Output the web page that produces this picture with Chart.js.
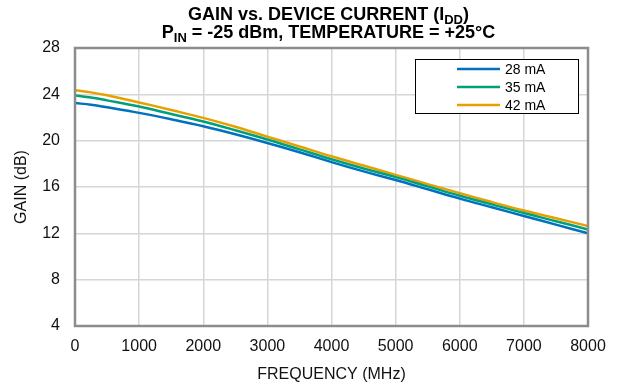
<!DOCTYPE html>
<html>
<head>
<meta charset="utf-8">
<script src="https://cdn.jsdelivr.net/npm/chart.js@4/dist/chart.umd.min.js"></script>
<style>
  html, body { margin: 0; padding: 0; background: #fff; }
  #wrap { width: 619px; height: 388px; }
</style>
</head>
<body>
<div id="wrap"><canvas id="gainChart" width="619" height="388"></canvas></div>
<script>
// Gain vs frequency

const freqMHz = [0, 250, 500, 1000, 1500, 2000, 2500, 3000, 3500, 4000, 4500, 5000, 5500, 6000, 6500, 7000, 7500, 8000];
const gain28 = [23.25, 23.1, 22.88, 22.4, 21.85, 21.25, 20.55, 19.8, 19.0, 18.15, 17.35, 16.6, 15.8, 15.0, 14.25, 13.5, 12.75, 12.0];
const gain35 = [23.9, 23.72, 23.48, 22.95, 22.3, 21.65, 20.9, 20.1, 19.25, 18.4, 17.6, 16.85, 16.05, 15.25, 14.5, 13.75, 13.05, 12.33];
const gain42 = [24.35, 24.17, 23.92, 23.3, 22.65, 21.97, 21.2, 20.35, 19.5, 18.65, 17.85, 17.05, 16.25, 15.47, 14.7, 13.97, 13.3, 12.63];
const seriesLabels = ['28 mA', '35 mA', '42 mA'];
const seriesColors = ['#0072BD', '#00A07A', '#E8A000'];

const FONT = 'Arial, "Liberation Sans", sans-serif';

function toPoints(values) {
    return freqMHz.map((f, i) => ({ x: f, y: values[i] }));
}

// draws a run of [text, isSubscript] pieces centred at cx
function drawRich(ctx, parts, cx, y, size) {
    const subSize = Math.round(size * 0.7);
    let total = 0;
    parts.forEach(p => {
        ctx.font = 'bold ' + (p[1] ? subSize : size) + 'px ' + FONT;
        total += ctx.measureText(p[0]).width;
    });
    let x = cx - total / 2;
    parts.forEach(p => {
        ctx.font = 'bold ' + (p[1] ? subSize : size) + 'px ' + FONT;
        ctx.fillText(p[0], x, p[1] ? y + 4 : y);
        x += ctx.measureText(p[0]).width;
    });
}

const decorations = {
    id: 'decorations',
    afterDatasetsDraw(chart) {
        const ctx = chart.ctx;
        const area = chart.chartArea;
        ctx.save();

        // plot frame
        ctx.strokeStyle = '#8c8c8c';
        ctx.lineWidth = 2.5;
        ctx.strokeRect(area.left, area.top, area.right - area.left, area.bottom - area.top);

        // title
        ctx.fillStyle = '#000';
        ctx.textBaseline = 'alphabetic';
        ctx.textAlign = 'left';
        const cx = (area.left + area.right) / 2 - 3;
        drawRich(ctx, [['GAIN vs. DEVICE CURRENT (I', false], ['DD', true], [')', false]], cx, 20, 18);
        drawRich(ctx, [['P', false], ['IN', true], [' = -25 dBm, TEMPERATURE = +25°C', false]], cx, 38, 18);

        // legend box
        const lx = 415, ly = 59, lw = 163, lh = 54;
        ctx.fillStyle = '#fff';
        ctx.fillRect(lx, ly, lw, lh);
        ctx.strokeStyle = '#000';
        ctx.lineWidth = 1;
        ctx.strokeRect(lx + 0.5, ly + 0.5, lw, lh);
        ctx.font = '14px ' + FONT;
        ctx.textBaseline = 'middle';
        chart.data.datasets.forEach((ds, i) => {
            const y = ly + 10 + i * 18;
            ctx.strokeStyle = ds.borderColor;
            ctx.lineWidth = 2.5;
            ctx.beginPath();
            ctx.moveTo(457, y);
            ctx.lineTo(500, y);
            ctx.stroke();
            ctx.fillStyle = '#000';
            ctx.fillText(ds.label, 505, y + 1);
        });
        ctx.restore();
    }
};

new Chart(document.getElementById('gainChart'), {
    type: 'line',
    data: {
        datasets: [gain28, gain35, gain42].map((vals, i) => ({
            label: seriesLabels[i],
            data: toPoints(vals),
            borderColor: seriesColors[i],
            backgroundColor: seriesColors[i],
            borderWidth: 2.5,
            pointRadius: 0,
            tension: 0.4,
            fill: false
        }))
    },
    options: {
        responsive: false,
        animation: false,
        layout: { padding: { left: 0, right: 31, top: 48, bottom: 0 } },
        plugins: {
            legend: { display: false },
            title: { display: false },
            tooltip: { enabled: false }
        },
        scales: {
            x: {
                type: 'linear',
                min: 0,
                max: 8000,
                ticks: { stepSize: 1000, color: '#111', font: { family: FONT, size: 16 }, padding: 11, maxRotation: 0,
                         callback: v => String(v) },
                grid: { color: '#d6d6d6', lineWidth: 1.5, drawTicks: false },
                border: { display: false },
                title: { display: true, text: 'FREQUENCY (MHz)', color: '#111', font: { family: FONT, size: 16 }, padding: { top: 0 } },
                afterFit(scale) { scale.height = 62; }
            },
            y: {
                min: 4,
                max: 28,
                ticks: { stepSize: 4, color: '#111', font: { family: FONT, size: 16 }, padding: 15,
                         callback: v => String(v) },
                grid: { color: '#d6d6d6', lineWidth: 1.5, drawTicks: false },
                border: { display: false },
                title: { display: true, text: 'GAIN (dB)', color: '#111', font: { family: FONT, size: 16 }, padding: { top: 12, bottom: 0 } },
                afterFit(scale) { scale.width = 75; }
            }
        }
    },
    plugins: [decorations]
});
</script>
</body>
</html>
